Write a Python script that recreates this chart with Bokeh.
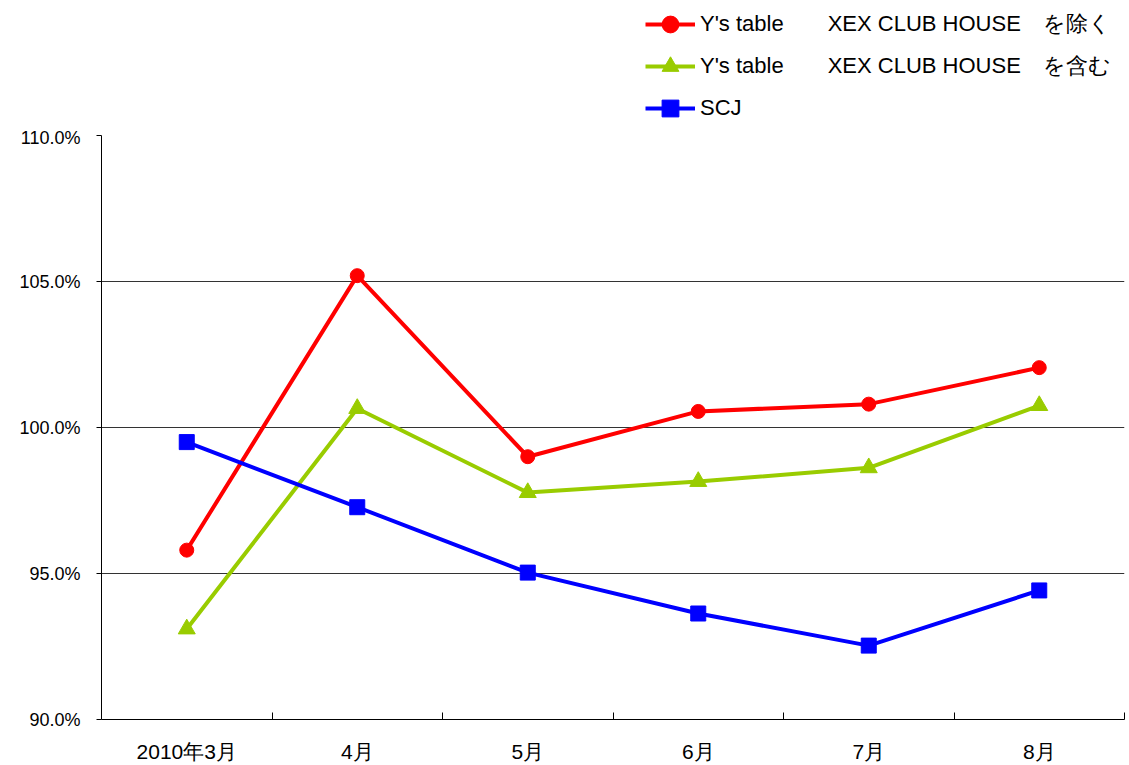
from bokeh.plotting import figure
from bokeh.layouts import column
from bokeh.models import Range1d, FixedTicker, PrintfTickFormatter, Legend, LegendItem
from bokeh.embed import file_html
from bokeh.resources import INLINE

categories = ["2010年3月", "4月", "5月", "6月", "7月", "8月"]
excl = [95.8, 105.2, 99.0, 100.55, 100.8, 102.05]
incl = [93.1, 100.65, 97.77, 98.15, 98.62, 100.75]
scj = [99.5, 97.27, 95.03, 93.63, 92.53, 94.42]
y_ticks = [90, 95, 100, 105, 110]
names = ["Y's table\u3000\u3000XEX CLUB HOUSE\u3000を除く",
         "Y's table\u3000\u3000XEX CLUB HOUSE\u3000を含む",
         "SCJ"]

xs = [i + 0.5 for i in range(len(categories))]
FONT = "Liberation Sans"
colors = ["#FF0000", "#99CC00", "#0000FF"]
markers = ["circle", "triangle", "square"]
sizes = [14, 17, 15]
series_list = [excl, incl, scj]

# ---------- main chart ----------
p = figure(width=1129, height=638, output_backend="svg", toolbar_location=None,
           x_range=Range1d(0, len(categories)), y_range=Range1d(90, 110),
           min_border_left=101, min_border_right=5, min_border_top=8, min_border_bottom=46)
p.outline_line_color = None
p.background_fill_color = "white"
p.border_fill_color = "white"

p.xaxis.ticker = FixedTicker(ticks=xs, minor_ticks=list(range(1, len(categories) + 1)))
p.xaxis.major_label_overrides = {x: c for x, c in zip(xs, categories)}
p.xaxis.major_tick_in = 0
p.xaxis.major_tick_out = 0
p.xaxis.minor_tick_in = 7
p.xaxis.minor_tick_out = 0
p.xaxis.minor_tick_line_color = "black"
p.xaxis.axis_line_color = "black"
p.xaxis.major_label_text_font = FONT
p.xaxis.major_label_text_font_size = "21px"
p.xaxis.major_label_text_color = "black"
p.xaxis.major_label_standoff = 20
p.xgrid.visible = False

p.yaxis.ticker = FixedTicker(ticks=y_ticks)
p.yaxis.formatter = PrintfTickFormatter(format="%.1f%%")
p.yaxis.major_tick_in = 0
p.yaxis.major_tick_out = 5
p.yaxis.minor_tick_line_color = None
p.yaxis.axis_line_color = "black"
p.yaxis.major_label_text_font = FONT
p.yaxis.major_label_text_font_size = "18px"
p.yaxis.major_label_text_color = "black"
p.yaxis.major_label_standoff = 16
p.ygrid.ticker = FixedTicker(ticks=y_ticks)
p.ygrid.grid_line_color = "#333333"
p.ygrid.grid_line_width = 1

for series, col, mk, sz in zip(series_list, colors, markers, sizes):
    p.line(xs, series, line_color=col, line_width=4)
    p.scatter(xs, series, marker=mk, size=sz, fill_color=col, line_color=col)

# ---------- legend strip (same series, drawn out of view; only the legend shows) ----------
lg = figure(width=1129, height=127, output_backend="svg", toolbar_location=None,
            x_range=Range1d(-10, -9), y_range=Range1d(-10, -9), min_border=0,
            x_axis_location=None, y_axis_location=None)
lg.outline_line_color = None
lg.grid.visible = False
items = []
for series, col, mk, sz, nm in zip(series_list, colors, markers, sizes, names):
    l = lg.line(xs, series, line_color=col, line_width=4)
    s = lg.scatter(xs, series, marker=mk, size=sz, fill_color=col, line_color=col)
    items.append(LegendItem(label=nm, renderers=[l, s]))

# column() aligns frames, so this strip's frame starts where the chart frame does
legend = Legend(items=items, location=(544, -2), orientation="vertical",
                glyph_width=50, glyph_height=42, label_height=42, spacing=0,
                padding=0, margin=0, label_standoff=5,
                label_text_font=FONT, label_text_font_size="22px",
                label_text_color="black", border_line_color=None,
                background_fill_alpha=0)
lg.add_layout(legend, "center")

layout = column(lg, p, spacing=0)
open("out.html", "w").write(file_html(layout, INLINE))
